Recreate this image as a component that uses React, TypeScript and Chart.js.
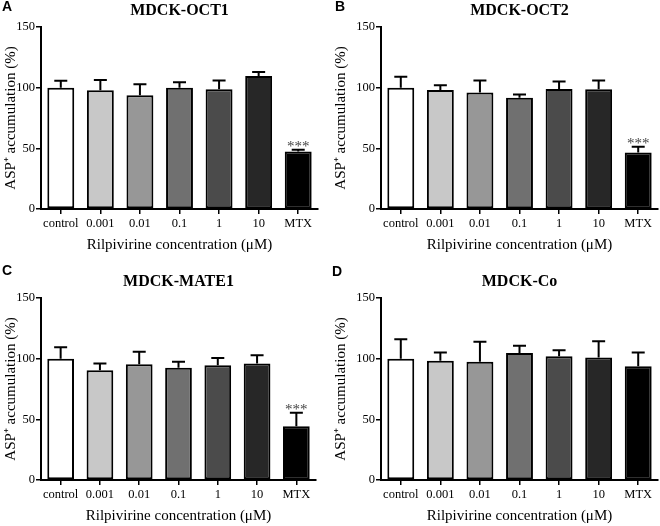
import React, { useEffect, useRef } from "react";
import { Chart, registerables } from "chart.js";

Chart.register(...registerables);

const CATEGORIES = ["control", "0.001", "0.01", "0.1", "1", "10", "MTX"];
const BAR_COLORS = ["#ffffff", "#c8c8c8", "#979797", "#707070", "#4b4b4b", "#272727", "#000000"];

const OCT1_MEAN = [100, 97.9, 93.8, 100, 98.7, 109.7, 47.4];
const OCT1_ERR = [5.6, 8.5, 9.0, 4.5, 7.3, 3.3, 1.4];
const OCT1_SIG = ["", "", "", "", "", "", "***"];

const OCT2_MEAN = [100, 98, 96, 91.6, 99, 98.7, 46.6];
const OCT2_ERR = [9, 4, 10, 2.7, 6, 7.3, 4.7];
const OCT2_SIG = ["", "", "", "", "", "", "***"];

const MATE1_MEAN = [100, 90.5, 95.5, 92.5, 94.6, 96, 44.2];
const MATE1_ERR = [9.5, 5.5, 10.3, 4.9, 6, 6.8, 11.2];
const MATE1_SIG = ["", "", "", "", "", "", "***"];

const CO_MEAN = [100, 98.2, 97.4, 104.7, 102, 101, 93.8];
const CO_ERR = [16, 6.8, 16.6, 6, 5, 13.3, 11.2];
const CO_SIG = ["", "", "", "", "", "", ""];

const Y_TICKS = [0, 50, 100, 150];
const X_TITLE = "Rilpivirine concentration (\u03bcM)";
const Y_TITLE = "ASP\u207a accumulation (%)";

const PANELS = [
  { letter: "A", title: "MDCK-OCT1", mean: OCT1_MEAN, err: OCT1_ERR, sig: OCT1_SIG, x: 0, y: 0, left: 41, top: 27, right: 318, bottom: 209, lx: 2, ly: 0 },
  { letter: "B", title: "MDCK-OCT2", mean: OCT2_MEAN, err: OCT2_ERR, sig: OCT2_SIG, x: 330, y: 0, left: 51, top: 27, right: 328, bottom: 209, lx: 5, ly: 0 },
  { letter: "C", title: "MDCK-MATE1", mean: MATE1_MEAN, err: MATE1_ERR, sig: MATE1_SIG, x: 0, y: 263, left: 41, top: 35, right: 316, bottom: 217, lx: 2, ly: 1 },
  { letter: "D", title: "MDCK-Co", mean: CO_MEAN, err: CO_ERR, sig: CO_SIG, x: 330, y: 263, left: 51, top: 35, right: 328, bottom: 217, lx: 2, ly: 2 },
];

const W = 330;
const H = 263;
const XAXIS_H = 46;
const SERIF = '"Liberation Serif", "Times New Roman", serif';
const SANS = '"Liberation Sans", Arial, sans-serif';

function makeChart(canvas: HTMLCanvasElement, p: any) {
  const overlay = {
    id: "overlay",
    afterDatasetsDraw(chart: any) {
      const ctx = chart.ctx;
      const ys = chart.scales.y;
      const meta = chart.getDatasetMeta(0);
      ctx.save();
      ctx.strokeStyle = "#000";
      ctx.lineWidth = 2;
      p.mean.forEach((m: number, i: number) => {
        const bar = meta.data[i];
        const cx = bar.x;
        const yTop = ys.getPixelForValue(m);
        const yErr = ys.getPixelForValue(m + p.err[i]);
        ctx.beginPath();
        ctx.moveTo(cx, yTop);
        ctx.lineTo(cx, yErr);
        ctx.moveTo(cx - 6.5, yErr);
        ctx.lineTo(cx + 6.5, yErr);
        ctx.stroke();
        if (p.sig[i]) {
          ctx.fillStyle = "#444";
          ctx.font = `15px ${SERIF}`;
          ctx.textAlign = "center";
          ctx.textBaseline = "alphabetic";
          ctx.fillText(p.sig[i], cx, yErr + 1);
        }
      });
      const ca = chart.chartArea;
      ctx.fillStyle = "#000";
      ctx.font = `bold 16px ${SERIF}`;
      ctx.textAlign = "center";
      ctx.textBaseline = "middle";
      ctx.fillText(p.title, (ca.left + ca.right) / 2, ca.top - 16.5);
      ctx.font = `bold 14px ${SANS}`;
      ctx.textAlign = "left";
      ctx.textBaseline = "top";
      ctx.fillText(p.letter, p.lx, p.ly);
      ctx.restore();
    },
  };

  return new Chart(canvas, {
    type: "bar",
    data: {
      labels: CATEGORIES,
      datasets: [
        {
          data: p.mean,
          backgroundColor: BAR_COLORS,
          borderColor: "#000",
          borderWidth: 2,
          borderSkipped: false,
          categoryPercentage: 1,
          barPercentage: 0.68,
        },
      ],
    },
    options: {
      responsive: false,
      animation: false,
      events: [],
      layout: {
        padding: { left: 0, top: p.top, right: W - p.right, bottom: H - p.bottom - XAXIS_H },
      },
      plugins: { legend: { display: false }, tooltip: { enabled: false }, title: { display: false } },
      scales: {
        x: {
          type: "category",
          offset: true,
          grid: { display: true, drawOnChartArea: false, drawTicks: true, tickLength: 5, color: "#000", lineWidth: 1.5, offset: false },
          border: { display: true, color: "#000", width: 2 },
          ticks: { color: "#000", font: { family: SERIF, size: 12.5 }, padding: 2, maxRotation: 0, autoSkip: false },
          title: { display: true, text: X_TITLE, color: "#000", font: { family: SERIF, size: 15 }, padding: { top: 0, bottom: 1 } },
          afterFit(s: any) {
            s.height = XAXIS_H;
          },
        },
        y: {
          min: 0,
          max: 150,
          afterBuildTicks(s: any) {
            s.ticks = Y_TICKS.map((v) => ({ value: v }));
          },
          grid: { display: true, drawOnChartArea: false, drawTicks: true, tickLength: 5, color: "#000", lineWidth: 1.5 },
          border: { display: true, color: "#000", width: 2 },
          ticks: { color: "#000", font: { family: SERIF, size: 12.5 }, padding: 1 },
          title: { display: true, text: Y_TITLE, color: "#000", font: { family: SERIF, size: 15 }, padding: { top: 2, bottom: 0 } },
          afterFit(s: any) {
            s.width = p.left;
          },
        },
      },
    },
    plugins: [overlay],
  } as any);
}

export default function App() {
  const refs = useRef<(HTMLCanvasElement | null)[]>([]);
  useEffect(() => {
    const charts = PANELS.map((p, i) => makeChart(refs.current[i] as HTMLCanvasElement, p));
    return () => charts.forEach((c) => c.destroy());
  }, []);
  return (
    <div style={{ position: "fixed", left: 0, top: 0, width: 660, height: 526, background: "#fff" }}>
      {PANELS.map((p, i) => (
        <canvas
          key={p.letter}
          ref={(el) => {
            refs.current[i] = el;
          }}
          width={W}
          height={H}
          style={{ position: "absolute", left: p.x, top: p.y, width: W, height: H }}
        />
      ))}
    </div>
  );
}
